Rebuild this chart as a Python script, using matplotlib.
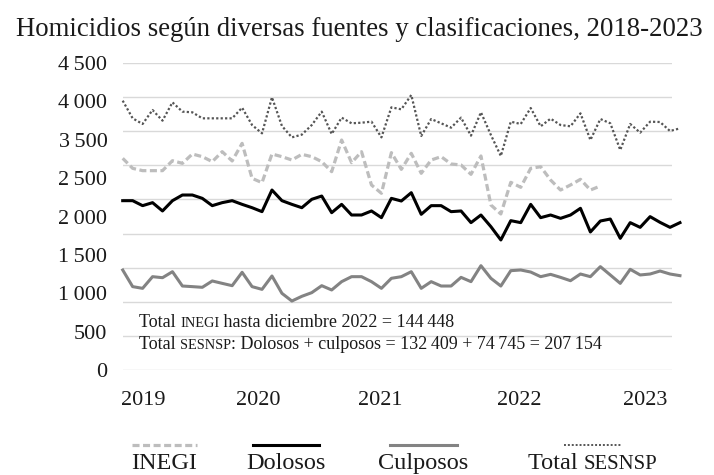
import re
import numpy as np
import matplotlib
matplotlib.use("Agg")
import matplotlib.pyplot as plt
from matplotlib.lines import Line2D

plt.rcParams['font.family'] = ['Liberation Serif', 'DejaVu Serif']

W, H = 714, 475

# monthly series, Jan 2019 onward
inegi = [3103, 2956, 2922, 2922, 2922, 3068, 3029, 3166, 3127, 3054,
         3200, 3064, 3322, 2809, 2746, 3166, 3127, 3078, 3161, 3127,
         3054, 2907, 3371, 3039, 3200, 2712, 2590, 3186, 2941, 3176,
         2883, 3078, 3127, 3020, 3005, 2868, 3137, 2419, 2287, 2751,
         2678, 2956, 2980, 2785, 2638, 2712, 2795, 2638, 2697]
dolosos = [2482, 2482, 2409, 2453, 2331, 2482, 2565, 2565, 2516, 2409,
           2453, 2482, 2428, 2379, 2321, 2638, 2482, 2428, 2379, 2502,
           2550, 2306, 2428, 2272, 2272, 2331, 2233, 2516, 2477, 2599,
           2282, 2409, 2409, 2321, 2331, 2160, 2272, 2101, 1906, 2189,
           2160, 2428, 2233, 2272, 2223, 2272, 2370, 2023, 2184, 2213,
           1930, 2160, 2091, 2248, 2164, 2091, 2160]
culposos = [1466, 1222, 1197, 1368, 1353, 1441, 1231, 1222, 1212, 1305,
            1270, 1236, 1432, 1222, 1182, 1378, 1124, 1011, 1080, 1134,
            1236, 1173, 1295, 1368, 1368, 1295, 1197, 1344, 1368, 1441,
            1197, 1295, 1231, 1231, 1358, 1295, 1529, 1344, 1231, 1456,
            1466, 1436, 1368, 1402, 1358, 1309, 1407, 1368, 1515, 1393,
            1270, 1476, 1393, 1407, 1451, 1407, 1383]
total_sesnsp = [3948, 3689, 3606, 3811, 3655, 3923, 3787, 3777, 3689, 3689,
                3689, 3689, 3845, 3591, 3469, 3997, 3577, 3410, 3450, 3591,
                3787, 3459, 3699, 3616, 3625, 3640, 3410, 3850, 3821, 4031,
                3430, 3679, 3616, 3552, 3699, 3435, 3777, 3445, 3137, 3640,
                3606, 3840, 3572, 3684, 3591, 3572, 3762, 3371, 3679, 3616,
                3225, 3606, 3479, 3640, 3635, 3503, 3542]

years = ['2019', '2020', '2021', '2022', '2023']
year_pos = [2.1, 13.6, 25.9, 39.8, 52.5]
ytick_labels = ['0', '500', '1\u2009000', '1\u2009500', '2\u2009000', '2\u2009500',
                '3\u2009500', '4\u2009000', '4\u2009500']
grid_values = list(range(0, 4501, 500))

title = 'Homicidios según diversas fuentes y clasificaciones, 2018-2023'
note1 = 'Total INEGI hasta diciembre 2022 = 144\u2009448'
note2 = 'Total SESNSP: Dolosos + culposos = 132\u2009409 + 74\u2009745 = 207\u2009154'
SMALLCAPS = ['INEGI', 'SESNSP']

c_inegi, c_dol, c_cul, c_ses = '#bdbdbd', '#000000', '#838383', '#555555'
st_inegi = (0, (2.2, 1.1))
st_ses = (0, (1, 1))

fig = plt.figure(figsize=(W / 100, H / 100), dpi=100)
ax = fig.add_axes([122.7 / W, 1 - 370 / H, (672 - 122.7) / W, (370 - 63) / H])

for v in grid_values:
    ax.axhline(v, color='#d9d9d9', lw=1.0, zorder=0)

ax.plot(np.arange(len(inegi)), inegi, color=c_inegi, lw=2.3, ls=st_inegi, clip_on=False)
ax.plot(np.arange(len(culposos)), culposos, color=c_cul, lw=2.2, clip_on=False)
ax.plot(np.arange(len(total_sesnsp)), total_sesnsp, color=c_ses, lw=1.6, ls=st_ses, clip_on=False)
ax.plot(np.arange(len(dolosos)), dolosos, color=c_dol, lw=2.2, clip_on=False)

ax.set_xlim(0, 55.2)
ax.set_ylim(0, 4500)
for s in ax.spines.values():
    s.set_visible(False)
ax.set_yticks(np.linspace(0, 4500, len(ytick_labels)), ytick_labels)
ax.tick_params(axis='y', length=0, pad=11, labelsize=16, labelcolor='#1a1a1a')
ax.set_xticks([])

for lab, pos in zip(years, year_pos):
    ax.text(pos, -0.114, lab, transform=ax.get_xaxis_transform(),
            ha='center', va='baseline', fontsize=16, color='#1a1a1a')

renderer = fig.canvas.get_renderer()


def text_width(s, size):
    t = fig.text(0, 0, '|' + s + '|', fontsize=size)
    w = t.get_window_extent(renderer).width
    t.remove()
    t = fig.text(0, 0, '||', fontsize=size)
    w -= t.get_window_extent(renderer).width
    t.remove()
    return w


def rich_text(x_px, y_px, s, size, ha='left', sc=0.8, smallcaps=SMALLCAPS):
    # small caps imitation for acronyms
    if smallcaps:
        pat = '(' + '|'.join(smallcaps) + ')'
        parts = re.split(pat, s)
    else:
        parts = [s]
    chunks = [(c, size * sc if c in smallcaps else size) for c in parts if c]
    widths = [text_width(c, fs) for c, fs in chunks]
    if ha == 'center':
        x_px -= sum(widths) / 2
    for (c, fs), w in zip(chunks, widths):
        fig.text(x_px / W, 1 - y_px / H, c, fontsize=fs, va='baseline',
                 ha='left', color='#1a1a1a')
        x_px += w


fig.text(359.5 / W, 1 - 36 / H, title, fontsize=19.3, ha='center', va='baseline',
         color='#1a1a1a')

rich_text(139, 327, note1, 13)
rich_text(139, 349, note2, 13)

# legend under the plot
legend_items = [('INEGI', c_inegi, 2.3, st_inegi, 132, 197),
                ('Dolosos', c_dol, 2.2, '-', 253, 319),
                ('Culposos', c_cul, 2.2, '-', 390, 457),
                ('Total SESNSP', c_ses, 1.4, st_ses, 564, 621)]
for lab, col, lw, ls, x0, x1 in legend_items:
    fig.add_artist(Line2D([x0 / W, x1 / W], [1 - 445 / H, 1 - 445 / H],
                          transform=fig.transFigure, color=col, lw=lw, ls=ls))
    rich_text((x0 + x1) / 2, 469, lab, 17.5, ha='center', sc=0.85,
              smallcaps=['SESNSP'])

fig.savefig('out.png', dpi=100)
